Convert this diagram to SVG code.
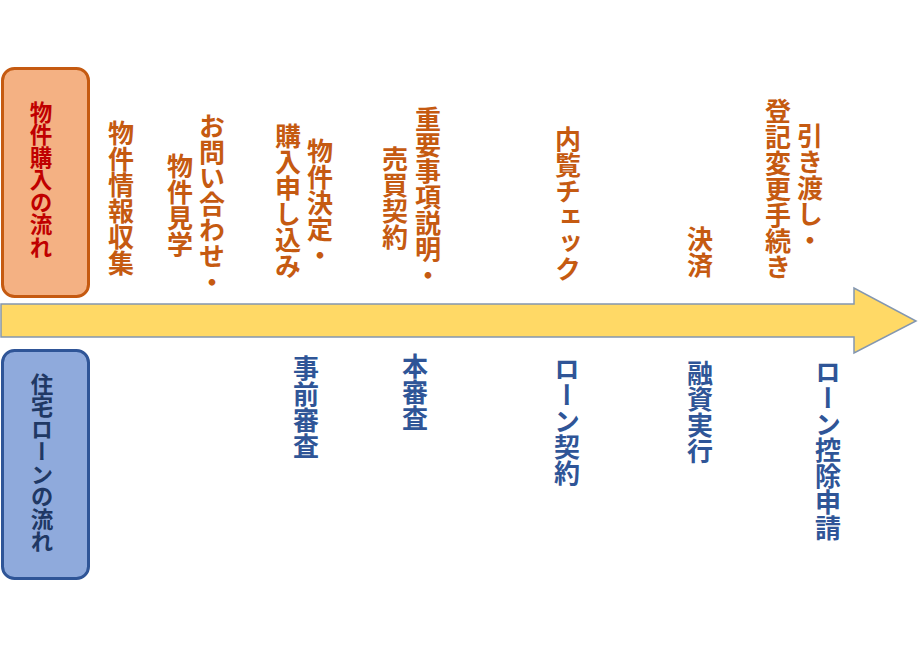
<svg xmlns="http://www.w3.org/2000/svg" width="918" height="648" viewBox="0 0 918 648">
<style>
  .v { writing-mode: vertical-rl; font-family: "Noto Sans CJK JP", "Noto Sans", sans-serif; font-weight: 700; }
  .o { fill: #C55A11; font-size: 26px; }
  .b { fill: #2F5597; font-size: 26px; }
  .lbl { font-size: 22.5px; }
  .box-o { fill: #F4B183; stroke: #C55A11; stroke-width: 3; }
  .box-b { fill: #8FAADC; stroke: #2F5597; stroke-width: 3; }
</style>
<rect width="918" height="648" fill="#FFFFFF"/>
<g id="connectors">
  <path d="M1,304 H854 V288 L916,321 L854,353 V337 H1 Z" fill="#FFD966" stroke="#8497B0" stroke-width="1.5"/>
</g>
<g id="purchase-flow">
  <rect class="box-o" x="2.5" y="68.5" width="86" height="228" rx="12"/>
  <text class="v lbl" x="41" y="101" fill="#C00000">物件購入の流れ</text>
</g>
<g id="loan-flow">
  <rect class="box-b" x="2.5" y="350.5" width="86" height="228" rx="12"/>
  <text class="v lbl" x="42" y="373" fill="#203864">住宅ローンの流れ</text>
</g>
<g id="step-info">
  <text class="v o" x="121" y="120">物件情報収集</text>
</g>
<g id="step-inquiry">
  <text class="v o" x="212" y="113">お問い合わせ・</text>
  <text class="v o" x="180" y="153">物件見学</text>
</g>
<g id="step-decision">
  <text class="v o" x="320" y="138">物件決定・</text>
  <text class="v o" x="288" y="123">購入申し込み</text>
</g>
<g id="step-contract">
  <text class="v o" x="428" y="106">重要事項説明・</text>
  <text class="v o" x="395" y="146">売買契約</text>
</g>
<g id="step-inspection">
  <text class="v o" x="568" y="126">内覧チェック</text>
</g>
<g id="step-settlement">
  <text class="v o" x="700" y="226">決済</text>
</g>
<g id="step-handover">
  <text class="v o" x="810" y="123">引き渡し・</text>
  <text class="v o" x="778" y="98">登記変更手続き</text>
</g>
<g id="loan-prescreen">
  <text class="v b" x="306" y="355">事前審査</text>
</g>
<g id="loan-screen">
  <text class="v b" x="415" y="353">本審査</text>
</g>
<g id="loan-contract">
  <text class="v b" x="567" y="356">ローン契約</text>
</g>
<g id="loan-execution">
  <text class="v b" x="700" y="360">融資実行</text>
</g>
<g id="loan-deduction">
  <text class="v b" x="828" y="359">ローン控除申請</text>
</g>
</svg>
